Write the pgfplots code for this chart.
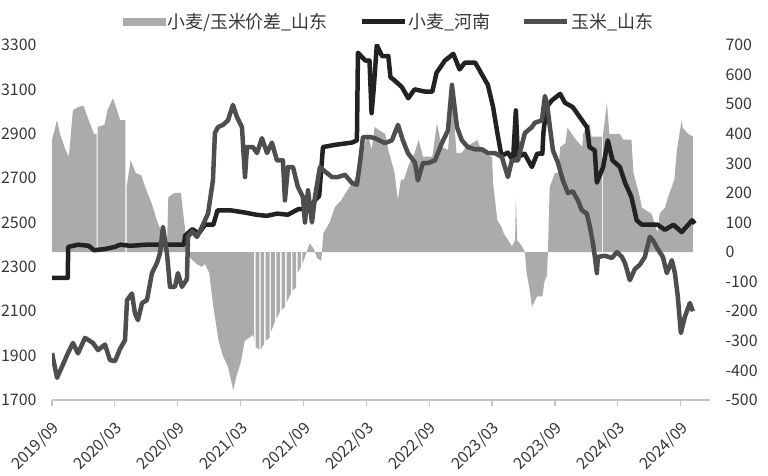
\documentclass[border=0pt]{standalone}
\usepackage{fontspec}
\setmainfont{Noto Sans CJK SC}
\usepackage{pgfplots}
\pgfplotsset{compat=1.18}
\usetikzlibrary{calc}
\definecolor{areagray}{RGB}{171,171,171}
\definecolor{wheatc}{RGB}{34,34,34}
\definecolor{cornc}{RGB}{78,78,78}
\definecolor{axisgray}{RGB}{196,196,196}
\definecolor{tickc}{RGB}{55,55,55}

\pgfplotstableread{
m v
0 0
0 379
0.48 446
0.76 400
1.24 350
1.5 330
1.6 321
2.0 480
2.5 490
3.0 495
3.5 446
4.0 400
4.25 400
4.25 0
4.35 0
4.35 423
5.0 430
5.3 480
5.82 520
6.2 480
6.5 446
7.0 446
7.0 0
7.12 0
7.12 220
7.5 311
8.0 267
8.5 260
9.0 210
9.5 166
10.0 108
10.5 64
11.0 50
11.1 186
11.7 200
12.3 200
12.6 108
12.9 20
13.2 -20
13.8 -40
14.3 -50
14.6 -40
15.0 -70
15.4 -185
15.9 -300
16.3 -350
16.8 -388
17.3 -466
17.6 -420
18.0 -375
18.4 -300
18.8 -290
19.2 -280
19.30 -300
19.30 0
19.44 0
19.44 -320
19.78 -330
19.78 0
19.92 0
19.92 -330
20.25 -310
20.25 0
20.39 0
20.39 -300
20.76 -290
20.76 0
20.90 0
20.90 -270
21.28 -235
21.28 0
21.42 0
21.42 -225
21.78 -200
21.78 0
21.92 0
21.92 -195
22.26 -185
22.26 0
22.40 0
22.40 -170
22.80 -140
22.80 0
22.94 0
22.94 -130
23.31 -120
23.31 0
23.45 0
23.45 -70
23.76 -50
23.76 0
23.90 0
23.90 -40
24.3 0
24.6 30
25.0 10
25.3 -20
25.7 -30
25.9 64
26.5 100
27.0 152
27.6 175
28.2 210
28.9 245
29.3 290
29.7 345
30.15 402
30.5 345
30.8 423
31.3 410
31.8 400
32.1 345
32.7 268
33.0 176
33.3 245
33.6 245
34.0 290
34.6 335
35.0 380
35.4 323
36.3 323
36.74 435
37.2 356
37.8 345
38.2 540
38.6 335
39.1 335
39.5 355
40.6 379
41.0 340
42.0 320
42.1 233
42.5 108
42.9 85
43.1 64
43.9 20
44.2 40
44.27 186
44.4 40
44.85 20
45.13 0
45.3 -70
45.6 -130
45.8 -185
46.3 -150
46.8 -150
47.0 -100
47.23 -80
47.33 0
47.5 220
48.0 267
48.3 267
48.5 355
49.0 368
49.2 420
49.6 400
50.0 380
50.6 356
50.7 400
51.3 435
51.5 390
52.5 390
52.5 0
52.6 0
52.6 400
52.96 504
53.2 400
53.6 400
54.2 400
54.5 380
55.3 380
55.5 268
56.1 186
56.3 150
57.2 130
57.4 110
57.8 65
58.0 130
58.5 150
58.8 186
59.4 245
59.64 345
60.1 446
60.2 420
60.7 400
61.16 390
61.16 0
}\spread

\pgfplotstableread{
m v
0 2250
1.5 2250
1.55 2390
2.5 2400
3.5 2395
4.0 2375
5.0 2380
6.0 2390
6.5 2400
7.5 2395
9 2400
12.0 2400
12.6 2400
12.7 2440
13.4 2470
14.0 2450
14.6 2490
15.4 2490
15.8 2555
17 2555
18.4 2545
19.5 2535
20.5 2530
21.5 2540
22.5 2535
23.5 2560
24.5 2560
25.1 2600
25.5 2620
25.86 2840
27 2850
28.6 2860
29.1 2870
29.2 3265
29.9 3230
30.3 3230
30.5 2993
30.7 3100
31.0 3300
31.5 3250
32.1 3250
32.3 3155
32.7 3140
33.4 3110
34.0 3060
34.6 3100
35.6 3090
36.3 3090
36.7 3175
37.5 3230
38.3 3260
38.9 3190
39.4 3220
40.4 3220
41.0 3170
41.6 3120
42.1 3020
42.5 2905
42.9 2800
43.5 2815
44.0 2780
44.27 3005
44.47 2795
45.1 2810
45.8 2750
46.3 2810
46.8 2810
46.9 2905
47.2 3020
47.7 3050
48.5 3080
48.95 3040
49.7 3020
50.6 2960
51.05 2930
51.3 2840
51.8 2825
52.0 2680
52.6 2750
53.05 2870
53.5 2780
54.2 2750
54.7 2678
55.3 2615
55.8 2510
56.3 2490
57.3 2490
57.8 2490
58.5 2467
59.3 2490
60.1 2457
61.1 2510
61.35 2495
}\wheat

\pgfplotstableread{
m v
0 1912
0.48 1800
0.95 1850
1.53 1912
2.0 1957
2.48 1910
3.15 1980
3.91 1957
4.39 1925
5.06 1950
5.53 1880
6.01 1875
6.49 1930
6.97 1970
7.16 2150
7.63 2180
7.92 2090
8.21 2060
8.59 2137
9.06 2150
9.54 2272
10.02 2318
10.31 2362
10.59 2480
10.97 2362
11.26 2210
11.74 2210
12.02 2272
12.4 2210
12.88 2245
12.98 2435
13.36 2460
13.84 2435
14.31 2480
14.89 2540
15.36 2690
15.55 2903
15.84 2930
16.32 2940
16.79 2960
17.27 3030
17.65 2975
18.13 2930
18.42 2705
18.61 2840
19.18 2840
19.56 2813
20.04 2880
20.52 2813
20.99 2860
21.47 2780
22.04 2780
22.23 2600
22.52 2750
23.0 2750
23.47 2660
23.95 2615
24.14 2500
24.43 2645
24.81 2500
25.1 2615
25.57 2750
26.05 2730
26.72 2705
27.29 2705
27.96 2715
28.63 2678
29.1 2670
29.39 2770
29.68 2885
30.34 2885
30.82 2880
31.77 2858
32.44 2870
33.02 2940
33.49 2870
33.97 2813
34.64 2770
34.92 2690
35.4 2768
35.88 2768
36.55 2780
37.21 2858
37.79 2915
38.17 3120
38.65 2930
39.12 2870
39.69 2840
40.36 2830
41.03 2830
41.6 2813
42.27 2813
42.94 2795
43.51 2705
43.89 2780
44.47 2780
45.13 2903
45.8 2930
46.09 2950
46.76 2960
47.04 3070
47.23 3040
47.52 2930
47.81 2825
48.28 2770
48.76 2690
49.24 2633
49.71 2640
50.19 2600
50.57 2555
51.05 2540
51.34 2480
51.62 2408
51.81 2345
52.0 2272
52.1 2345
52.77 2350
53.44 2340
53.91 2367
54.39 2345
54.68 2318
55.15 2240
55.63 2290
56.11 2310
56.58 2345
57.06 2435
57.35 2420
57.82 2380
58.3 2345
58.68 2272
59.16 2330
59.45 2272
59.73 2165
60.02 2002
60.4 2075
60.88 2137
61.16 2100
}\corn

\begin{document}
\begin{tikzpicture}
\begin{axis}[name=a1, at={(0,0)}, anchor=south west,
  scale only axis, width=658bp, height=355bp,
  xmin=0, xmax=62.8, ymin=-500, ymax=700,
  hide x axis, axis y line*=right, y axis line style={draw=none},
  ytick={-500,-400,...,700}, ytick style={draw=none}, major tick length=0pt,
  yticklabel style={font=\fontsize{16}{18}\selectfont, text=tickc, xshift=12bp},
  /pgf/number format/assume math mode=true]
\addplot[fill=areagray, draw=none] table[x=m, y=v] {\spread};
\end{axis}
\begin{axis}[name=a2, at={(0,0)}, anchor=south west,
  scale only axis, width=658bp, height=355bp,
  xmin=0, xmax=62.8, ymin=1700, ymax=3300,
  axis x line*=bottom, axis y line*=left,
  y axis line style={draw=none},
  x axis line style={draw=axisgray, line width=1.5bp, -},
  ytick={1700,1900,...,3300}, ytick style={draw=none},
  xtick={0,6,...,60},
  xticklabels={2019/09,2020/03,2020/09,2021/03,2021/09,2022/03,2022/09,2023/03,2023/09,2024/03,2024/09},
  xtick style={draw=axisgray, line width=1.2bp},
  tick align=outside, major tick length=6bp,
  yticklabel style={font=\fontsize{16}{18}\selectfont, text=tickc, xshift=-6bp},
  xticklabel style={font=\fontsize{16}{18}\selectfont, text=tickc, xshift=7bp, yshift=-17bp, rotate=45, anchor=east},
  /pgf/number format/assume math mode=true,
  /pgf/number format/1000 sep={},
  legend style={at={(0.5,1)}, anchor=south, xshift=8bp, yshift=11bp, draw=none, fill=none,
    legend columns=3, font=\fontsize{18}{20}\selectfont, text=tickc,
    nodes={inner xsep=1.5bp},
    /tikz/every even column/.append style={column sep=30bp}},
  legend cell align=left]
\addlegendimage{legend image code/.code={\fill[areagray] (0bp,-3.5bp) rectangle (42bp,3.5bp);}}
\addlegendentry{小麦/玉米价差\_山东}
\addplot[wheatc, line width=4.5bp, line join=round,
  legend image code/.code={\draw[wheatc, line width=5bp] (0bp,0bp) -- (43bp,0bp);}]
  table[x=m, y=v] {\wheat};
\addlegendentry{小麦\_河南}
\addplot[cornc, line width=4.5bp, line join=round,
  legend image code/.code={\draw[cornc, line width=5bp] (0bp,0bp) -- (43bp,0bp);}]
  table[x=m, y=v] {\corn};
\addlegendentry{玉米\_山东}
\end{axis}
\pgfresetboundingbox
\path ($(a2.south west)+(-52bp,-76bp)$) rectangle ($(a2.north east)+(58bp,45bp)$);
\end{tikzpicture}
\end{document}
